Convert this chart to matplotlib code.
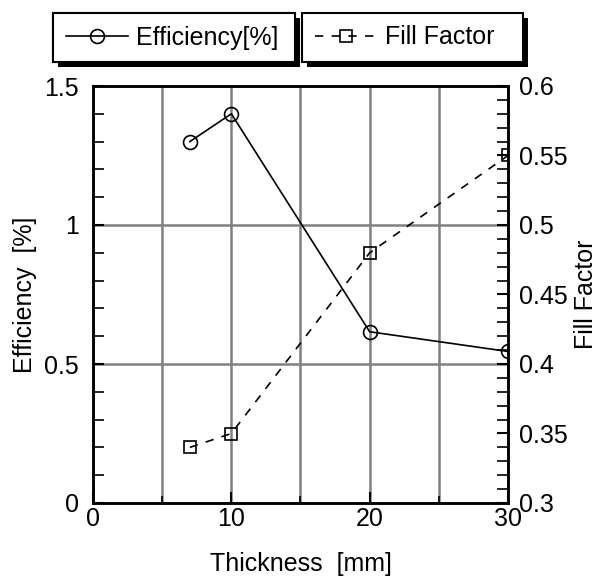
"""
Efficiency and fill factor versus thickness, dual y axis.
"""

import matplotlib

matplotlib.use("Agg")

import matplotlib.pyplot as plt
from matplotlib.patches import Rectangle
from matplotlib.ticker import FuncFormatter, MultipleLocator

thickness = [7, 10, 20, 30]
efficiency = [1.30, 1.40, 0.616, 0.545]
fill_factor = [0.34, 0.35, 0.48, 0.55]

FONT_SIZE = 18
W, H = 599, 577

plt.rcParams["font.family"] = ["Liberation Sans", "DejaVu Sans"]

fig = plt.figure(figsize=(W / 100, H / 100), dpi=100)
ax = fig.add_axes([93 / W, 1 - 503 / H, 415 / W, 417 / H])
ax2 = ax.twinx()

line_eff, = ax.plot(thickness, efficiency, color="black", linewidth=1.2,
                    marker="o", markersize=10, markerfacecolor="none",
                    markeredgewidth=1.2, label="Efficiency[%]")
line_ff, = ax2.plot(thickness, fill_factor, color="black", linewidth=1.2,
                    linestyle=(0, (5, 5)), marker="s", markersize=9,
                    markerfacecolor="none", markeredgewidth=1.2,
                    label="Fill Factor")

ax.set_xlim(0, 30)
ax.set_ylim(0, 1.5)
ax2.set_ylim(0.3, 0.6)

ax.xaxis.set_major_locator(MultipleLocator(10))
ax.xaxis.set_minor_locator(MultipleLocator(5))
ax.yaxis.set_major_locator(MultipleLocator(0.5))
ax.yaxis.set_minor_locator(MultipleLocator(0.1))
ax2.yaxis.set_major_locator(MultipleLocator(0.05))
ax2.yaxis.set_minor_locator(MultipleLocator(0.01))
ax.yaxis.set_major_formatter(FuncFormatter(lambda v, _: f"{v:g}"))
ax2.yaxis.set_major_formatter(FuncFormatter(lambda v, _: f"{v:g}"))

ax.grid(True, which="both", axis="x", color="#808080", linewidth=1.8)
ax.grid(True, which="major", axis="y", color="#808080", linewidth=1.8)
ax.set_axisbelow(True)

ax.tick_params(axis="both", which="both", direction="in",
               labelsize=FONT_SIZE, top=False, right=False)
ax.tick_params(which="major", length=8, width=1.5)
ax.tick_params(which="minor", length=5, width=1.2)
ax.tick_params(axis="y", which="minor", length=8)
ax.tick_params(axis="y", pad=10)
ax.tick_params(axis="x", pad=3)
ax2.tick_params(axis="y", which="both", direction="in",
                labelsize=FONT_SIZE, pad=8)
ax2.tick_params(which="major", length=8, width=1.5)
ax2.tick_params(which="minor", length=8, width=1.2)

for spine in ax.spines.values():
    spine.set_linewidth(1.8)
for spine in ax2.spines.values():
    spine.set_linewidth(1.8)

ax.set_xlabel("Thickness  [mm]", fontsize=FONT_SIZE)
ax.set_ylabel("Efficiency  [%]", fontsize=FONT_SIZE)
ax2.set_ylabel("Fill Factor", fontsize=FONT_SIZE)
ax.xaxis.set_label_coords(0.5, -0.118)
ax.yaxis.set_label_coords(-0.135, 0.5)
ax2.yaxis.set_label_coords(1.16, 0.5)

legend_style = dict(loc="upper left", mode="expand", fontsize=FONT_SIZE,
                    frameon=True, fancybox=False, edgecolor="black",
                    framealpha=1, handlelength=2.5, handletextpad=0.32,
                    borderpad=0.5, borderaxespad=0)
leg1 = fig.legend(handles=[line_eff],
                  bbox_to_anchor=(53 / W, 1 - 58 / H, 242 / W, 45 / H),
                  **legend_style)
leg1.get_frame().set_linewidth(1.5)
fig.add_artist(leg1)
leg2 = fig.legend(handles=[line_ff],
                  bbox_to_anchor=(302 / W, 1 - 58 / H, 221 / W, 45 / H),
                  **legend_style)
leg2.get_frame().set_linewidth(1.5)

# solid black drop shadow, offset down and to the right like the original
fig.canvas.draw()
for legend in (leg1, leg2):
    box = legend.get_frame().get_window_extent()
    shadow = Rectangle((box.x0 + 5, box.y0 - 5), box.width, box.height,
                       transform=None, facecolor="black", edgecolor="none",
                       zorder=legend.get_zorder() - 0.1)
    fig.add_artist(shadow)

fig.savefig("out.png", dpi=100)
